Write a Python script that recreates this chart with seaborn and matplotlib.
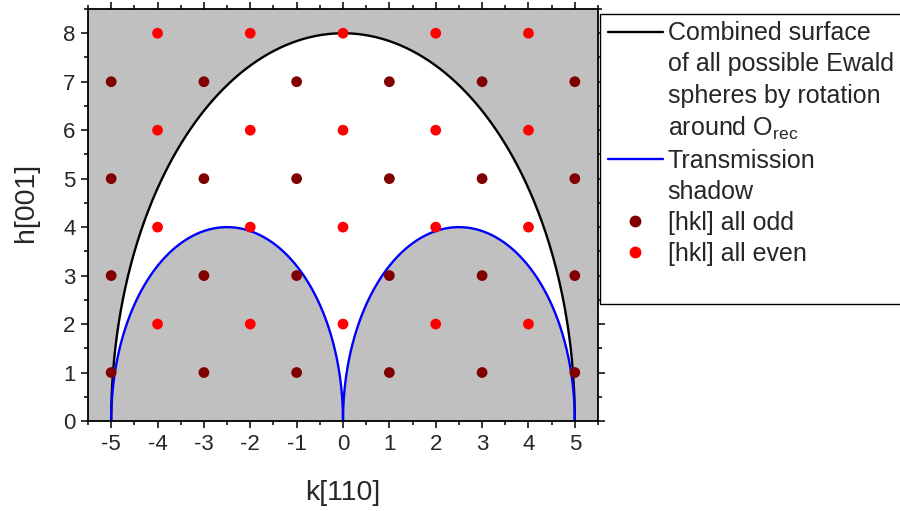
import numpy as np
import pandas as pd
import matplotlib
matplotlib.use("Agg")
import matplotlib.pyplot as plt
from matplotlib.lines import Line2D
from matplotlib.ticker import MultipleLocator
import seaborn as sns

# Reciprocal lattice points (k along [110], h along [001])
odd_k = [-5, -3, -1, 1, 3, 5]
odd_h = [1, 3, 5, 7]
even_k = [-4, -2, 0, 2, 4]
even_h = [2, 4, 6, 8]

# Ewald construction: outer limiting surface and transmission shadow
outer_half_width = 5.0
outer_height = 8.0
shadow_centers = [-2.5, 2.5]
shadow_half_width = 2.5
shadow_height = 4.0

legend_labels = [
    "Combined surface",
    "of all possible Ewald",
    "spheres by rotation",
    "around O$_{\\mathrm{rec}}$",
    "Transmission",
    "shadow",
    "[hkl] all odd",
    "[hkl] all even",
    " ",
]

GRAY = "#c0c0c0"
DARK_RED = "#800000"
RED = "#ff0000"
BLUE = "#0000ff"

sns.set_style("ticks")
plt.rcParams["font.family"] = ["Liberation Sans", "DejaVu Sans"]
plt.rcParams["mathtext.fontset"] = "custom"
plt.rcParams["mathtext.rm"] = "Liberation Sans"
plt.rcParams["mathtext.it"] = "Liberation Sans:italic"
plt.rcParams["axes.unicode_minus"] = False

W, H = 900, 511
fig = plt.figure(figsize=(W / 100, H / 100), dpi=100)
ax = fig.add_axes([88 / W, (H - 421) / H, 510 / W, 412 / H])
ax.set_facecolor(GRAY)

# Half-ellipse curves
t = np.linspace(0, np.pi, 600)
outer = pd.DataFrame({
    "k": outer_half_width * np.cos(t),
    "h": outer_height * np.sin(t),
})
shadows = [
    pd.DataFrame({
        "k": c + shadow_half_width * np.cos(t),
        "h": shadow_height * np.sin(t),
    })
    for c in shadow_centers
]

# Accessible region: inside the outer surface, outside the shadows
ax.fill_between(outer["k"], 0, outer["h"], color="white", lw=0, zorder=0.5)
for s in shadows:
    ax.fill_between(s["k"], 0, s["h"], color=GRAY, lw=0, zorder=0.6)

sns.lineplot(data=outer, x="k", y="h", sort=False, estimator=None,
             color="black", lw=1.7, ax=ax, zorder=2)
for s in shadows:
    sns.lineplot(data=s, x="k", y="h", sort=False, estimator=None,
                 color=BLUE, lw=1.7, ax=ax, zorder=2)

odd_pts = pd.DataFrame([(k, h) for h in odd_h for k in odd_k], columns=["k", "h"])
even_pts = pd.DataFrame([(k, h) for h in even_h for k in even_k], columns=["k", "h"])
sns.scatterplot(data=odd_pts, x="k", y="h", color=DARK_RED, s=60,
                edgecolor="none", ax=ax, zorder=3)
sns.scatterplot(data=even_pts, x="k", y="h", color=RED, s=60,
                edgecolor="none", ax=ax, zorder=3)

ax.set_xlim(-5.5, 5.5)
ax.set_ylim(0, 8.5)
ax.xaxis.set_major_locator(MultipleLocator(1))
ax.xaxis.set_minor_locator(MultipleLocator(0.5))
ax.yaxis.set_major_locator(MultipleLocator(1))
ax.yaxis.set_minor_locator(MultipleLocator(0.5))
ax.tick_params(which="both", direction="out", top=True, right=True,
               labeltop=False, labelright=False, width=1.1, color="black")
ax.tick_params(which="major", length=5, labelsize=16, pad=4)
ax.tick_params(which="minor", length=3)
for sp in ax.spines.values():
    sp.set_visible(True)
    sp.set_linewidth(1.3)
    sp.set_color("black")
    sp.set_zorder(4)

ax.set_xlabel("k[110]", fontsize=20.5, labelpad=18)
ax.set_ylabel("h[001]", fontsize=20.5)
ax.yaxis.set_label_coords(-0.097, 0.53)

# Legend: one row per text line so the spacing stays uniform
blank = Line2D([], [], color="none")
handles = [
    Line2D([], [], color="black", lw=1.7),
    blank, blank, blank,
    Line2D([], [], color=BLUE, lw=1.7),
    blank,
    Line2D([], [], color=DARK_RED, marker="o", ls="none", markersize=7.5),
    Line2D([], [], color=RED, marker="o", ls="none", markersize=7.5),
    blank,
]
leg = ax.legend(handles, legend_labels, loc="upper left",
                bbox_to_anchor=(600 / W, (H - 14) / H),
                bbox_transform=fig.transFigure, fontsize=18,
                frameon=True, fancybox=False, edgecolor="black",
                framealpha=1, borderaxespad=0, borderpad=0.3,
                handlelength=2.2, handletextpad=0.2, labelspacing=0.28)
leg.get_frame().set_linewidth(1.0)

fig.savefig("out.png", dpi=100)
